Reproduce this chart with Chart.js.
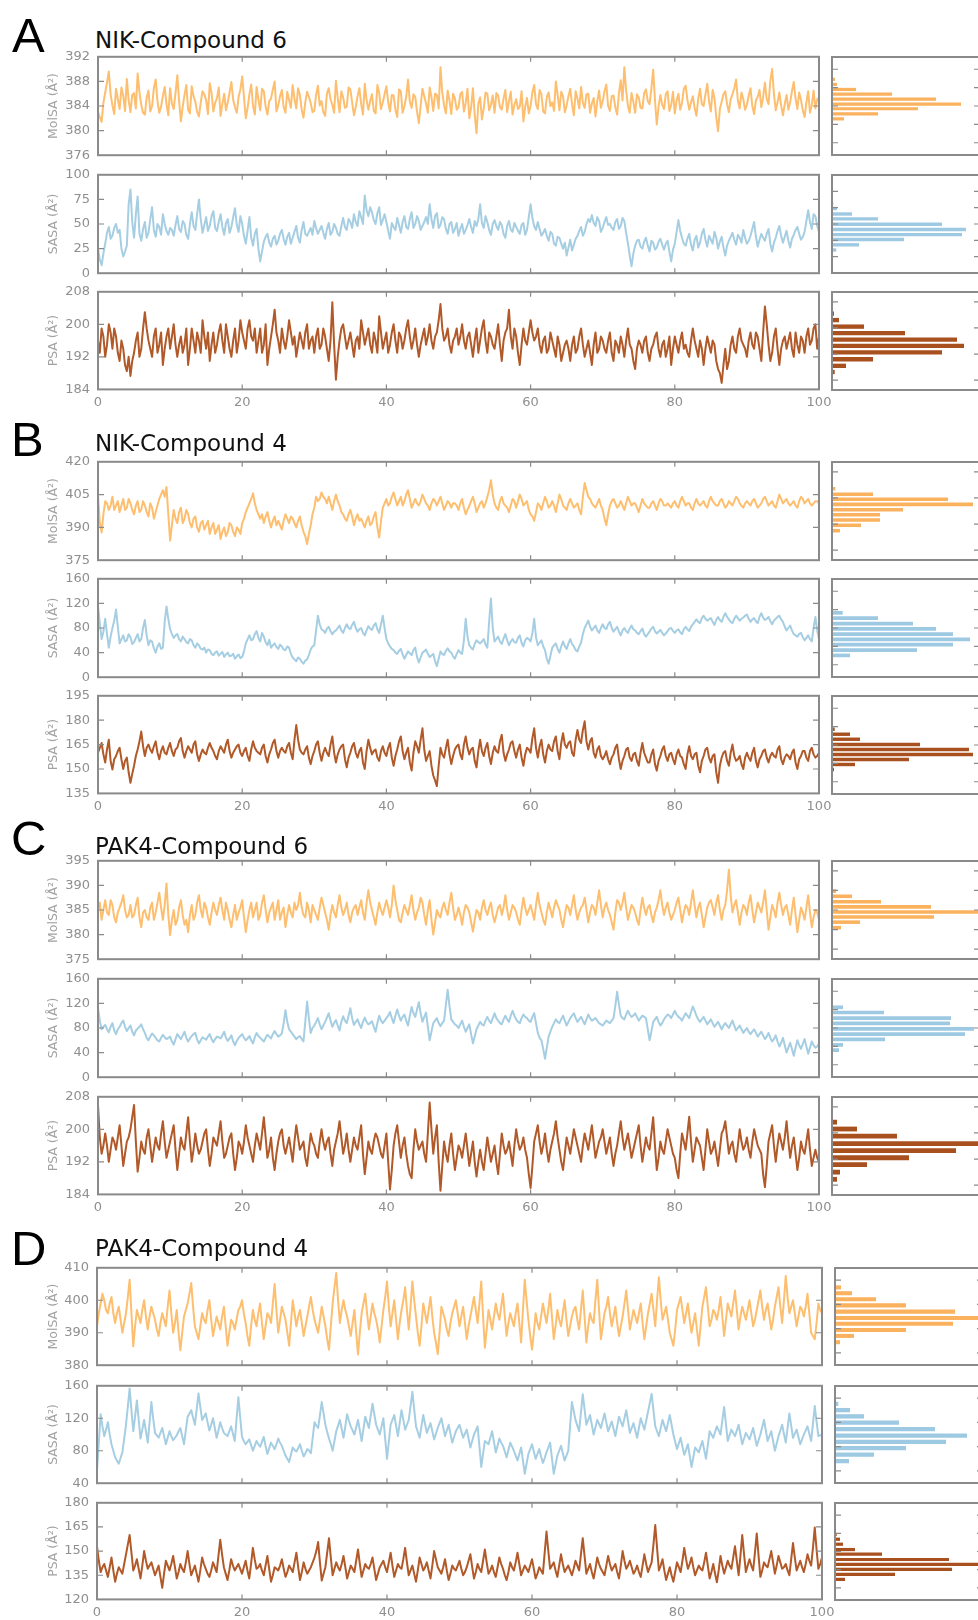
<!DOCTYPE html>
<html><head><meta charset="utf-8">
<script src="https://cdn.jsdelivr.net/npm/chart.js@4.4.1/dist/chart.umd.min.js"></script>
<style>
html,body{margin:0;padding:0;background:#fff;}
body{width:978px;height:1620px;position:relative;overflow:hidden;}
canvas{position:absolute;}
.letter{position:absolute;font-family:"Liberation Sans",Arial,sans-serif;font-size:49px;line-height:49px;color:#000;white-space:nowrap;}
.title{position:absolute;font-family:"DejaVu Sans",sans-serif;font-size:23px;line-height:23px;color:#111;white-space:nowrap;}
</style></head><body>
<script>
// ---------- sampling / axes ----------
// main arrays: samples at t = 0, 0.5, 1.0 ... 100 ns ; *_mid arrays: samples at t = 0.25, 0.75, ...
const TIME_STEP = 0.5;
const xTicks = [0, 20, 40, 60, 80, 100];
const HIST_MAX = 148;

// ---------- A: NIK-Compound 6 ----------
const nik6_molsa = [
383.0,381.4,386.2,389.6,384.1,386.8,383.5,385.7,388.4,383.0,386.1,389.3,384.2,382.6,386.5,384.0,388.3,382.9,385.6,384.3,
386.9,383.5,389.0,381.5,385.8,383.4,387.2,384.7,382.3,386.4,384.9,387.7,383.1,385.3,382.4,386.0,384.6,387.9,383.8,385.5,
388.8,382.0,385.9,384.0,387.1,383.3,386.4,382.6,385.2,388.0,384.1,386.6,382.9,385.0,387.4,383.6,385.8,382.1,386.3,384.5,
383.2,387.3,384.8,382.4,386.9,384.2,388.1,383.0,385.4,383.9,386.7,382.5,385.6,384.3,387.6,383.4,385.9,382.8,386.1,384.6,
387.2,383.1,385.7,382.2,386.4,384.0,388.3,383.7,385.5,381.2,386.8,384.4,387.0,383.2,385.8,390.3,384.1,386.5,382.7,385.2,
383.8,386.3,384.5,382.0,386.9,379.6,385.4,383.6,386.0,384.2,382.9,385.7,383.4,386.6,384.8,382.6,385.1,383.9,381.5,385.3,
384.0,387.4,383.5,385.9,382.8,386.2,384.6,388.0,383.3,385.6,384.1,386.8,382.5,385.2,387.1,383.7,386.0,384.4,382.3,386.5,
384.8,387.5,383.2,385.7,382.6,388.2,390.3,384.0,386.1,382.9,385.4,383.6,386.7,384.3,389.9,381.0,385.8,383.5,386.4,384.2,
382.8,386.0,384.5,387.3,383.4,385.6,382.4,386.8,384.0,387.6,383.1,385.3,379.9,384.7,386.4,383.0,385.9,388.3,383.6,385.1,
384.2,386.9,382.7,385.5,383.8,387.8,384.3,390.0,383.3,386.2,382.5,385.8,384.6,387.9,383.5,385.0,382.2,386.4,384.1,383.6,
385.4];
const nik6_molsa_mid = [
382.2,384.5,387.8,385.9,382.7,385.1,387.0,383.2,384.9,385.8,383.6,386.2,382.9,385.4,383.1,386.9,384.8,383.9,387.1,382.5,
384.4,386.1,384.8,383.9,387.4,382.8,385.6,383.0,384.6,385.9,382.7,386.1,384.5,387.0,384.3,383.3,386.2,385.0,382.9,386.7,
385.4,383.7,387.5,382.6,385.0,386.8,383.9,384.8,386.7,383.1,385.6,383.8,386.3,383.7,385.2,386.9,383.4,384.6,385.5,383.0,
385.8,384.1,383.0,386.0,385.1,382.9,385.3,386.4,383.7,387.0,384.6,383.8,386.9,382.6,385.0,384.8,383.2,387.4,383.5,385.9,
384.6,385.8,383.4,386.7,382.9,385.5,384.7,385.9,383.1,384.0,385.6,382.9,385.4,386.0,383.6,386.2,382.8,384.9,386.0,383.4,
385.9,383.1,386.8,383.7,382.5,384.4,381.8,386.2,383.3,385.7,386.1,383.8,385.2,383.0,386.3,384.2,383.5,386.4,383.9,382.8,
386.2,384.3,386.6,383.1,385.5,384.0,383.2,385.8,386.3,383.0,385.6,384.3,386.4,383.6,384.5,385.9,382.9,385.3,384.8,383.7,
386.4,384.0,385.6,383.8,386.0,384.9,386.5,382.9,384.7,385.9,383.7,386.1,384.8,386.8,385.0,383.9,384.2,385.9,383.2,386.3,
384.9,383.4,386.8,385.0,384.6,383.7,385.2,384.3,385.9,384.8,386.6,382.2,383.5,385.9,384.3,385.1,386.9,384.9,386.2,383.4,
385.7,384.0,384.9,386.6,385.4,385.1,388.1,386.0,384.6,384.1,384.3,383.4,386.4,385.2,386.2,383.3,384.6,382.9,386.5,385.1];
const nik6_sasa = [
25,8,30,47,38,50,44,17,28,85,36,78,33,52,41,67,37,47,60,43,
46,38,58,42,50,35,62,44,75,41,57,48,63,43,60,39,55,47,66,42,
50,30,57,28,45,12,32,40,27,38,33,44,29,41,36,48,31,52,38,46,
53,40,48,35,51,42,46,38,56,44,52,60,48,57,79,58,62,50,67,54,
52,35,47,56,41,58,45,62,50,53,48,57,70,46,61,49,55,40,52,45,
38,50,44,55,41,48,70,46,52,39,54,44,49,36,53,42,47,40,51,44,
70,48,52,38,45,33,40,28,36,25,18,34,29,38,47,42,55,59,48,53,
46,57,50,44,55,48,53,30,7,28,34,25,36,22,31,26,35,24,33,12,
30,54,36,28,40,23,38,31,45,27,34,42,25,37,18,33,41,29,36,44,
30,38,52,27,40,33,45,22,36,48,31,43,26,39,47,34,42,64,45,58,
42];
const nik6_sasa_mid = [
14,20,41,35,46,41,25,22,70,52,60,40,45,36,55,44,50,39,50,39,
44,49,45,53,39,50,48,60,55,49,43,58,46,52,47,51,41,57,49,58,
38,43,36,40,25,22,37,31,35,29,40,35,37,30,42,36,44,40,42,39,
46,44,41,45,39,50,40,48,47,55,46,52,63,50,64,67,54,61,49,60,
43,51,44,49,52,47,55,46,58,44,52,50,55,58,46,57,45,50,41,51,
45,40,49,47,53,55,51,58,44,50,48,52,40,48,44,51,43,49,39,57,
56,44,45,41,38,42,30,37,30,31,26,23,35,43,38,50,52,51,57,42,
52,49,46,52,45,56,41,18,20,33,27,32,28,33,24,32,29,30,22,24,
42,43,30,35,29,34,26,40,34,38,30,36,32,26,28,37,34,39,31,36,
33,45,37,34,36,40,30,31,43,38,37,33,35,44,40,37,53,52,60,48];
const nik6_psa = [
196,199,192,200,194,197,191,194,188.5,187.3,193,198,194,203,196,192,199,195,190,197,
194,200,192,197,195,190,199,193,196,201,194,191,198,195,200,193,197,192,199,196,
198,194,201,196,193,199,195,190,197,203.6,196,199,194,201,195,192,198,194,200,196,
193,199,195,197,191,205.4,186.4,196,200,194,198,192,197,201,195,199,193,196,202,194,
198,195,200,193,197,196,201,194,199,192,197,195,200,194,198,205,196,199,193,197,
195,200,194,198,192,199,196,201,193,197,194,200,191,198,203.6,194,197,190,199,195,
201,196,199,193,197,194,196,192,195,193,196,191,197,194,199,192,196,190,198,194,
196,193,198,191,195,197,192,199,194,189,196,193,197,191,195,198,192,196,194,190,
197,193,198,195,192,199,194,196,190,197,193,195,189,185.6,194,191,197,193,199,195,
192,198,194,197,191,204.4,195,193,199,190,196,194,198,192,195,197,193,199,196,200,
197];
const nik6_psa_mid = [
193,197,195,198,199,193,196,190,192,191,196,192,199,199,194,197,193,198,194,199,
197,195,195,193,199,194,196,198,193,197,198,195,193,198,196,200,194,196,193,201,
196,199,197,199,196,193,200,194,200,198,193,196,197,198,197,195,196,198,194,197,
197,194,199,194,196,195,192,199,197,196,195,196,194,198,197,195,198,193,198,196,
193,198,196,198,194,199,197,196,195,195,199,197,196,197,201,199,197,195,196,199,
197,196,197,195,196,193,199,196,198,195,197,195,196,199,197,199,193,195,196,198,
198,197,195,196,193,198,194,197,191,195,194,195,193,197,195,194,193,195,193,197,
194,196,193,196,193,195,196,195,191,194,195,196,193,194,197,194,195,192,197,194,
195,196,194,193,196,196,192,194,194,195,196,191,188,190,189,195,194,197,196,194,
196,195,198,194,198,200,191,197,194,194,197,196,194,198,193,196,197,195,199,194];
const nik6_molsa_ticks = [376, 380, 384, 388, 392];
const nik6_sasa_ticks  = [0, 25, 50, 75, 100];
const nik6_psa_ticks   = [184, 192, 200, 208];
const nik6_molsa_bins   = [389.8, 388.7, 387.6, 386.6, 385.5, 384.4, 383.4, 382.3, 381.2, 380.1];
const nik6_molsa_counts = [3, 5, 24, 60, 104, 129, 86, 46, 12, 1];
const nik6_sasa_bins    = [81.3, 73.8, 65.3, 57.9, 49.7, 41.5, 33.7, 26.2, 18.1, 10.2];
const nik6_sasa_counts  = [1.3, 5, 20, 46, 110, 134, 130, 72, 27, 4.3];
const nik6_psa_bins     = [204.4, 202.4, 200.4, 198.4, 196.4, 194.5, 192.5, 190.4, 188.4, 186.5];
const nik6_psa_counts   = [2, 7, 32, 73, 125, 132, 110, 41, 14, 2.7];

// ---------- B: NIK-Compound 4 ----------
const nik4_molsa = [
405,387.7,402,398,404,400,397,403,399,401,396,402,398,400,395,399,397,403,407,408.5,
384,398,392,399,394,396,390,395,388,393,391,387,392,389,384.7,390,388,391,386,389,
392,397,401,405.6,398,394,392,397,390,395,393,389,396,392,394,390,395,388,382.4,391,
399,402,406,403,404,398,405,400,396,393,398,391,396,394,390,395,392,397,385.4,399,
403,401,406,400,404,402,407,399,403,400,405,401,398,403,400,404,398,402,399,401,
398,403,396,400,404,397,401,399,404,411.6,401,398,404,400,397,403,399,405,400,402,
396,393,401,398,404,399,402,397,405,400,398,403,399,401,396,410.3,404,401,399,403,
398,391,400,403,399,402,398,404,400,401,397,403,400,399,402,398,403,400,401,399,
402,399,404,400,401,398,403,400,402,399,404,401,400,403,399,402,400,404,401,399,
402,400,403,399,401,404,400,402,399,405,401,403,400,402,399,404,401,403,400,402,
401];
const nik4_molsa_mid = [
392,396,401,400,398,402,400,398,403,398,400,397,402,397,401,394,400,405,404,396,
391,394,397,392,398,392,394,390,392,389,393,390,387,391,388,386,392,388,390,387,
394,399,403,401,396,396,395,393,393,391,391,393,394,395,392,393,391,386,387,396,
404,403,404,401,401,402,402,397,394,396,395,394,393,392,393,391,395,390,393,401,
400,404,403,402,400,405,403,401,401,402,403,400,401,402,402,401,400,401,401,400,
401,399,398,402,401,399,402,401,407,405,399,402,401,399,400,402,402,403,401,398,
395,397,400,401,402,400,400,401,403,399,401,401,400,398,404,407,403,400,401,400,
394,396,402,401,400,400,401,402,401,399,400,401,399,401,400,401,402,400,400,401,
400,402,402,401,399,401,401,401,400,402,402,400,402,401,400,401,402,403,400,401,
401,402,401,400,403,402,401,400,402,403,402,401,401,400,402,403,402,401,401,402];
const nik4_sasa = [
115,62,95,48,80,110,55,68,60,65,57,70,62,93,52,58,40,55,48,115,
78,64,70,58,62,55,60,48,52,45,40,44,36,42,38,33,40,35,30,37,
33,55,68,62,75,58,66,52,48,55,46,50,44,48,32,26,30,22,29,45,
52,100,78,72,82,70,76,84,72,86,78,90,74,80,68,83,77,88,72,100,
62,50,44,38,46,30,42,36,48,24,40,45,33,38,18,42,36,47,40,30,
44,38,95,52,45,60,55,62,48,128,58,66,54,70,52,62,56,68,50,64,
58,95,52,60,44,22,48,55,40,58,46,62,50,42,56,80,92,76,84,72,
86,78,90,74,82,68,80,72,84,76,70,79,66,74,82,71,77,68,75,80,
72,78,70,82,75,86,94,88,100,92,96,85,98,90,104,94,88,100,92,97,
102,90,96,88,104,93,98,86,95,100,90,76,84,70,66,72,60,68,58,98,
62];
const nik4_sasa_mid = [
88,74,70,66,92,82,62,58,70,54,64,58,80,68,60,47,50,46,90,95,
70,68,62,66,57,62,52,55,46,48,45,38,40,35,41,37,34,38,34,31,
42,62,60,70,64,72,57,61,52,49,53,45,50,38,29,32,25,27,36,50,
76,86,76,79,75,74,80,76,80,80,85,80,78,72,76,79,84,78,86,80,
55,46,40,43,37,36,39,44,33,32,42,38,35,26,30,38,43,42,34,38,
40,60,66,48,54,57,58,53,90,80,62,58,63,60,58,57,64,56,60,62,
72,65,56,50,30,35,52,46,50,50,55,54,44,50,70,86,82,80,76,80,
80,86,80,78,74,76,75,79,78,72,75,70,70,79,75,74,72,71,79,75,
76,73,78,78,82,90,90,96,95,94,90,93,93,98,98,90,95,96,95,100,
95,94,91,98,97,95,91,92,98,94,82,80,76,68,70,65,64,62,80,76];
const nik4_psa = [
160,166,154,168,149.7,158,163,150,157,141.5,152,162,173,158,165,160,167,156,164,159,
166,158,163,169,157,164,160,167,155,162,159,166,161,156,164,160,168,157,162,165,
158,163,155,167,161,159,165,154,162,168,157,163,160,166,156,177,162,159,164,153,
161,167,155,163,158,170,154,162,165,151,160,166,157,163,150,168,159,162,155,164,
158,166,152,162,170,156,163,149,167,160,175,155,161,146,139.5,163,157,168,153,162,
165,156,170,159,163,151,168,158,166,153,164,160,171,155,162,167,157,165,152,163,
160,175,157,168,154,165,161,170,156,172,163,167,158,174,166,179.3,162,169,157,164,
156,161,153,159,165,150,158,163,155,160,152,166,157,154,162,149,158,164,155,160,
153,162,157,150,164,156,160,148,158,163,154,159,141.5,157,161,152,165,155,158,150,
160,155,163,151,158,162,154,160,157,164,153,159,156,162,150,158,161,155,163,157,
160];
const nik4_psa_mid = [
163,159,162,155,156,161,156,155,148,147,158,167,164,163,162,164,160,161,160,163,
161,162,167,161,161,162,165,159,159,160,163,163,158,161,162,165,161,160,164,160,
161,158,162,163,160,163,158,159,166,161,161,161,164,160,168,168,160,162,157,158,
165,160,160,160,165,160,159,164,156,157,164,160,161,154,161,163,161,157,161,160,
163,157,158,167,161,160,154,160,164,168,162,158,152,143,152,159,163,159,158,164,
159,165,163,162,155,161,161,163,158,160,161,167,160,159,166,161,162,157,159,162,
169,163,164,159,161,162,167,161,166,165,166,160,168,168,174,167,167,160,162,158,
158,156,157,163,156,155,162,157,159,155,160,160,154,159,153,155,162,158,159,156,
159,158,153,159,158,159,152,155,162,157,158,148,152,160,155,160,158,156,153,157,
157,160,155,156,161,157,158,158,162,156,157,158,160,154,156,161,157,161,159,158];
const nik4_molsa_ticks = [375, 390, 405, 420];
const nik4_sasa_ticks  = [0, 40, 80, 120, 160];
const nik4_psa_ticks   = [135, 150, 165, 180, 195];
const nik4_molsa_bins   = [410.3, 407.1, 404.2, 401.3, 398.2, 395.3, 392.3, 389.3, 386.2, 383.2];
const nik4_molsa_counts = [3.3, 41, 116, 141, 71, 48, 48, 29, 8, 1];
const nik4_sasa_bins    = [124.5, 113, 101.5, 89.6, 78.1, 66.7, 55.2, 43.7, 31.8, 20.3];
const nik4_sasa_counts  = [1, 10.7, 46, 81, 104, 121, 138, 121, 85, 18];
const nik4_psa_bins     = [177.9, 173.8, 169.7, 165.4, 161.3, 157.2, 153.2, 149.1, 145, 140.9];
const nik4_psa_counts   = [2.7, 18, 28, 88, 137, 141, 77, 23, 2, 1];

// ---------- C: PAK4-Compound 6 ----------
const pak6_molsa = [
385,383,387,384,386,382.5,385.5,388,383.5,386,384,387.5,381.5,385,383,386.5,384.5,388.5,383,390.4,
379.9,385,383,387,382,380.5,386,384,388,383.5,385.5,382,386.5,384,387.5,383,385,381.5,386,384.5,
387,380.5,385,383.5,386.5,384,388,382.5,385.5,383,387,384.5,381.5,386,383.5,385,388.5,384,386.5,382.5,
385,383,387.5,384.5,381,386,383.5,388,384,386.5,382.5,385.5,384,387,383,389,385,382,386.5,384,
387,383.5,390,385,382.5,386,384,388,383,385.5,386.5,382,387,380,385,383.5,386.5,384,388.5,383,
385.5,382,386,384.5,380.6,385,383,387,384,386.5,382.5,385.5,384,388,383,386,384.5,382,387.5,384,
386,383,388.5,384.5,382,386.5,383.5,387,385,381.5,386,384,388,383,385.5,387.5,382.5,386,384,389,
383.5,386.5,384,381,387,385,388.5,383,386,384.5,382,387.5,384,386,382.5,385.5,389,384,386.5,383,
385,387.5,382.5,386,384,389,383.5,386.5,381.5,385.5,387,384,388,383,386,393.2,384.5,387,382,386,
384,388,382.5,386.5,384.5,389,381,386,383.5,388.5,384,386,382,387.5,380.5,385.5,383,388,381.5,385,
383];
const pak6_molsa_mid = [
386.5,385,384.5,387,383.5,384.5,386.5,385,384,383.5,386,383.5,384.5,383.5,385.5,383,386.5,385.5,386,384,
383,382,385.5,384,383,384,383,386.5,385,386.5,383.5,384.5,385,386,385,386.5,383,384,383,385.5,
383.5,383,386.5,385,383,386.5,385,384.5,386.5,385,383,385.5,384,384.5,386.5,386,385.5,383.5,385,386,
384,385.5,386,383,384,384.5,386,385.5,385,384,384.5,386,385.5,384.5,386.5,386.5,383.5,384.5,385,385.5,
385.5,386,387,383,384.5,385,386,385,384.5,387.5,384,385,383,382.5,384,385.5,385,386.5,385.5,384,
384,384.5,385.5,382.5,383,384.5,385.5,385,385.5,384,384,386,385.5,385,384.5,385.5,383,385,385.5,385,
384.5,386,386,383,384.5,385,385.5,386,383,384,385.5,386,385,384.5,386,385,384.5,385.5,386.5,386,
385.5,385,382.5,384.5,386.5,386.5,385.5,384.5,385.5,383,385,385.5,385.5,384,384.5,387,386,385.5,384.5,384,
386.5,385,384.5,385.5,386.5,386,385.5,384,383.5,386.5,385.5,386.5,385,385,389,388,386,384.5,384.5,385.5,
386.5,385,384.5,385.5,386.5,385,383.5,385,386.5,386,385.5,384,385,384,383,384.5,385.5,384.5,383.5,384.5];
const pak6_sasa = [
112,78,85,73,88,70,82,92,75,84,68,79,86,72,60,71,64,58,69,62,
66,53,70,62,74,58,67,72,55,65,61,70,57,66,63,74,59,68,52,64,
70,60,67,55,72,64,58,69,63,75,66,71,109,78,70,62,67,58,123,72,
84,96,78,90,104,82,93,76,99,88,112,85,94,80,97,86,91,74,100,88,
96,106,88,110,92,102,84,114,98,122,90,105,60,88,96,83,92,142,94,86,
80,92,74,86,55,78,90,84,98,88,104,92,86,100,90,108,94,88,102,96,
90,104,72,60,30,66,82,94,88,100,84,96,104,90,98,86,102,92,96,88,
84,92,88,96,139,100,94,108,98,104,92,100,96,60,90,98,84,94,102,96,
108,98,92,104,96,115,100,90,98,86,94,82,90,78,88,80,92,76,84,72,
80,70,78,66,74,62,72,58,68,50,64,40,56,35,60,46,62,38,58,48,
55];
const pak6_sasa_mid = [
92,82,78,82,76,78,88,82,80,74,76,82,78,64,66,68,60,64,65,64,
58,62,66,68,64,63,70,61,60,63,66,62,62,65,68,64,63,58,59,67,
64,63,60,65,67,61,64,66,70,70,68,88,90,74,66,65,62,90,96,80,
90,86,84,97,92,88,84,90,92,100,96,90,86,90,90,88,82,88,92,92,
100,96,100,100,98,92,100,104,110,104,98,82,74,92,88,88,118,116,90,84,
86,82,80,70,66,84,86,92,92,96,96,88,94,94,100,100,90,96,98,92,
98,88,64,46,48,74,88,90,94,92,90,100,96,94,92,94,96,94,92,86,
88,90,92,116,118,96,102,102,100,98,96,98,78,74,94,90,88,98,100,102,
102,96,98,100,106,108,94,94,92,90,88,86,84,84,84,86,84,80,78,76,
74,74,72,70,68,66,64,62,58,56,52,48,46,48,52,54,50,48,52,50];
const pak6_psa = [
206,194,199,192,198,195,201,191,197,200,206,189.6,197,194,200,192,198,195,202,193,
197,201,190,198,195,203,192,199,194,197,200,191,198,196,202,193,196,199,190,197,
194,201,196,192,199,195,203,193,198,190,197,200,194,198,192,201,195,197,191,199,
196,193,200,195,198,191,197,202,194,199,192,198,195,201,189,197,194,199,196,193,
199,185.2,196,201,193,198,191,188,200,195,197,192,206.6,194,201,184.9,197,192,199,190,
196,193,199,191,197,188.4,195,190,198,192,196,189,199,194,197,191,200,195,198,193,
185.6,197,201,194,199,192,197,202,195,190,198,194,200,196,192,199,195,201,193,197,
200,194,198,191,196,202,195,199,193,197,201,192,198,195,203,190,197,194,200,196,
193,188,199,195,203.1,192,198,196,190,200,194,197,191,199,202,194,197,192,200,195,
198,193,200,196,194,185.8,197,201,192,199,195,202,193,198,190,197,194,200,191,195,
192];
const pak6_psa_mid = [
198,196,196,195,197,198,196,194,198,203,197,193,195,198,196,195,196,199,197,195,
199,195,194,196,199,197,195,196,195,199,195,194,197,199,197,194,198,194,193,196,
197,198,194,196,197,199,198,195,193,194,199,196,196,195,197,198,196,193,195,197,
194,197,197,197,194,195,199,198,196,195,195,196,198,194,193,195,197,198,194,196,
192,190,199,197,196,194,189,195,197,196,194,199,200,198,192,191,194,196,194,193,
195,196,195,194,192,192,192,194,195,194,192,194,196,195,194,196,197,196,195,189,
191,199,197,196,195,195,199,198,192,194,196,197,198,194,196,197,198,197,195,198,
197,196,194,194,199,198,197,196,195,199,196,195,196,199,196,193,195,197,198,194,
190,194,197,199,197,195,197,193,195,197,195,194,195,200,198,196,194,196,197,196,
195,197,198,195,189,191,199,196,196,197,198,197,196,194,193,195,197,195,193,193];
const pak6_molsa_ticks = [375, 380, 385, 390, 395];
const pak6_sasa_ticks  = [0, 40, 80, 120, 160];
const pak6_psa_ticks   = [184, 192, 200, 208];
const pak6_molsa_bins   = [389.8, 388.5, 387.1, 385.8, 384.5, 383.2, 381.9, 380.5];
const pak6_molsa_counts = [4, 20, 49, 99, 160, 102, 28, 9];
const pak6_sasa_bins    = [125.1, 113.7, 101.5, 90.1, 78.1, 66.7, 55.2, 43.2, 31.8];
const pak6_sasa_counts  = [11, 52, 119, 118, 142, 133, 53, 11, 7];
const pak6_psa_bins     = [203.3, 201.2, 199.0, 196.7, 194.6, 192.4, 190.3, 188.0, 185.8];
const pak6_psa_counts   = [5, 25, 65, 160, 124, 77, 35, 8, 5];

// ---------- D: PAK4-Compound 4 ----------
const pak4_molsa = [
392,399,400,396,401,393,398,390,396,406.3,385.8,397,393,400,391,398,394,389,396,392,
403,390,397,384.6,395,399,405.3,392,388,396,393,400,389,395,391,398,386,394,391,397,
400,393,386,397,392,399,388,396,393,405,390,398,394,386,400,392,397,389,395,401,
394,390,398,392,384.8,399,408.4,393,400,395,389,397,383.3,396,402,391,399,394,387,397,
405.8,392,400,388,397,404,391,405.8,395,386,399,393,401,390,383.4,398,394,389,396,400,
392,398,388,395,401,393,405.8,385.4,397,391,399,394,402,389,396,392,399,387,406.3,394,
384.8,396,391,399,393,402,388,397,392,400,389,395,398,391,403,387,396,393,406.3,388,
396,401,392,398,389,395,403,391,397,393,399,388,396,402,392,407.1,394,398,390,386,
397,401,393,399,390,396,386,398,404,392,397,394,401,389,399,395,403,391,398,394,
400,392,397,403,394,399,391,398,404,393,407.5,396,400,392,398,395,402,390,388,399,
396];
const pak4_molsa_mid = [
396,402,397,399,396,396,394,393,401,396,392,395,397,395,395,396,391,393,394,398,
396,393,390,390,397,402,398,390,392,394,397,394,392,393,395,392,390,393,394,398,
396,389,392,394,396,393,392,395,399,397,394,396,390,393,396,395,393,392,398,397,
392,394,395,388,392,404,400,397,397,392,393,390,390,399,396,395,396,391,392,401,
398,396,394,393,400,397,398,400,390,392,396,397,395,387,390,396,391,393,398,396,
395,393,392,398,397,399,395,391,394,395,396,398,395,393,394,396,393,397,400,389,
390,393,395,396,397,395,392,394,396,394,392,397,394,397,395,392,394,400,397,392,
398,396,395,393,392,399,397,394,395,396,393,392,399,397,400,400,396,394,388,391,
399,397,396,394,393,391,392,401,398,394,396,397,395,394,397,399,397,395,396,397,
396,394,400,398,397,395,394,401,398,400,401,398,396,395,397,398,396,389,393,397];
const pak4_sasa = [
56,125,98,115,88,72,64,78,112,156.8,104,142,95,118,90,140,102,96,108,88,
104,93,99,108,88,122,130,112,150.6,118,126,105,120,96,115,102,98,110,92,146,
97,88,94,80,92,85,97,76,90,82,95,86,74,66,84,79,88,73,82,77,
115,108,140,112,95,80,104,118,96,125,110,100,118,92,122,108,138,112,100,120,
70,112,124,98,130,106,118,152.6,110,96,124,102,114,94,108,120,98,112,90,104,
112,96,106,84,100,110,60,92,88,104,78,95,86,72,90,80,68,84,51.6,76,
88,70,82,65,78,90,51.6,74,86,68,80,140,118,104,149.7,112,124,100,118,108,
126,104,116,98,122,110,130,102,114,96,120,106,128,150,110,98,118,104,124,100,
82,96,75,88,60,84,78,92,70,104,96,110,100,134,92,106,98,112,88,102,
94,108,86,100,118,92,104,80,98,112,90,126,96,106,88,100,110,92,135,98,
100];
const pak4_sasa_mid = [
90,110,106,100,80,68,71,95,134,130,122,118,106,104,115,120,99,102,98,96,
98,96,104,98,105,126,121,131,134,122,115,112,108,105,108,100,104,101,119,121,
92,91,87,86,88,91,86,83,86,88,90,80,70,75,81,83,80,77,80,96,
111,124,126,103,88,92,111,107,110,117,105,109,105,107,115,123,125,106,110,95,
91,118,111,114,118,112,135,131,103,110,113,108,104,101,114,109,105,101,97,108,
104,101,95,92,105,85,76,90,96,91,86,90,79,81,85,74,76,68,64,82,
79,76,73,71,84,71,63,80,77,74,110,129,111,127,131,118,112,109,113,117,
115,110,107,110,116,120,116,108,105,108,113,117,139,130,104,108,111,114,112,91,
89,85,81,74,72,81,85,81,87,100,103,105,117,113,99,102,105,100,95,98,
101,97,93,109,105,98,92,89,105,101,108,111,101,97,94,105,101,113,116,99];
const pak4_psa = [
153,137,142,134,146,131,140,136,148,160,138,145,133,150,139,143,135,141,127.2,144,
138,147,133,142,137,150,135,141,131,146,139,134,143,137,157,140,132,145,138,142,
136,144,133,152,139,142,135,147,131,140,138,145,134,141,137,149,132,143,136,140,
146,155.6,131.7,140,158,135,143,138,147,133,141,137,151,134,142,139,146,132,140,144,
137,149,134,142,139,152,135,141,131,146,138,143,133,150,140,136,145,132,141,138,
144,135,140,148,133,142,137,151,136,141,134,146,139,132,143,138,149,135,141,137,
145,133,140,136,162.1,139,143,134,148,137,141,135,144,138,158,136,142,133,146,139,
135,147,138,142,133,150,139,144,136,141,134,148,137,143,166.2,138,145,132,140,131,
143,137,152,139,146,135,141,138,149,133,142,130.6,147,136,144,139,153,135,160,137,
145,138,161,134,143,140,150,136,147,139,142,135,155,138,144,137,148,141,164.6,139,
146];
const pak4_psa_mid = [
144,140,138,140,138,136,138,142,154,149,141,139,141,144,141,139,138,134,136,141,
142,140,137,139,143,142,138,136,138,142,136,138,140,147,148,136,138,141,140,139,
140,138,142,145,140,138,141,139,135,139,141,139,137,139,143,140,137,139,138,143,
150,143,136,149,146,139,140,142,140,137,139,144,142,138,140,142,139,136,142,140,
143,141,138,140,145,143,138,136,138,142,140,138,141,145,138,140,138,136,139,141,
139,137,144,140,137,139,144,143,138,137,140,142,135,137,140,143,142,138,139,141,
139,136,138,149,150,141,138,141,142,139,138,139,141,148,147,139,137,139,142,137,
141,142,140,137,141,144,141,140,138,137,141,142,140,154,152,141,138,136,135,137,
140,144,145,142,140,138,139,143,141,137,136,138,141,140,141,146,144,147,148,141,
141,149,147,138,141,145,143,141,143,140,138,145,146,141,140,142,144,152,151,142];
const pak4_molsa_ticks = [380, 390, 400, 410];
const pak4_sasa_ticks  = [40, 80, 120, 160];
const pak4_psa_ticks   = [120, 135, 150, 165, 180];
const pak4_molsa_bins   = [407.0, 404.6, 402.1, 399.6, 397.0, 394.4, 392.0, 389.4, 387.0, 384.4];
const pak4_molsa_counts = [6, 17, 41, 71, 120, 150, 118, 71, 19, 5];
const pak4_sasa_bins    = [150.6, 140.2, 129.9, 119.7, 108.9, 98.1, 87.9, 77.6, 66.8, 56.1];
const pak4_sasa_counts  = [3.3, 15, 29, 64, 100, 132, 111, 71, 39, 14];
const pak4_psa_bins     = [164.2, 160.1, 156.0, 151.6, 147.8, 143.4, 139.3, 135.2, 131.1, 127.0];
const pak4_psa_counts   = [1.7, 5, 8, 20, 47, 114, 150, 117, 60, 10];

// ---------- styling & layout (not data) ----------
Chart.defaults.font.family = "'DejaVu Sans', sans-serif";
const FRAME = '#8a8a8a', TICKTXT = '#8f8f8f', TITLETXT = '#a2a2a2';
const LINE_COL = ['#fdbf6f', '#a6cee3', '#b15928'];
const HIST_COL = ['#fbb25e', '#9dc9e2', '#a9501f'];
const YLABELS = ['MolSA (Å²)', 'SASA (Å²)', 'PSA (Å²)'];
const TICK_LEN = 6;

const groups = [
  {letter:'A', title:'NIK-Compound 6', lx:12, ly:11, tx:95, ty:29, x0:98, x1:819, hx:832, tops:[57,175,292], h:98,
   s:[[nik6_molsa,nik6_molsa_mid,nik6_molsa_ticks,nik6_molsa_bins,nik6_molsa_counts],[nik6_sasa,nik6_sasa_mid,nik6_sasa_ticks,nik6_sasa_bins,nik6_sasa_counts],[nik6_psa,nik6_psa_mid,nik6_psa_ticks,nik6_psa_bins,nik6_psa_counts]]},
  {letter:'B', title:'NIK-Compound 4', lx:11, ly:415, tx:95, ty:432, x0:98, x1:819, hx:832, tops:[462,579,696], h:98,
   s:[[nik4_molsa,nik4_molsa_mid,nik4_molsa_ticks,nik4_molsa_bins,nik4_molsa_counts],[nik4_sasa,nik4_sasa_mid,nik4_sasa_ticks,nik4_sasa_bins,nik4_sasa_counts],[nik4_psa,nik4_psa_mid,nik4_psa_ticks,nik4_psa_bins,nik4_psa_counts]]},
  {letter:'C', title:'PAK4-Compound 6', lx:11, ly:814, tx:95, ty:835, x0:98, x1:819, hx:832, tops:[861,979,1097], h:98,
   s:[[pak6_molsa,pak6_molsa_mid,pak6_molsa_ticks,pak6_molsa_bins,pak6_molsa_counts],[pak6_sasa,pak6_sasa_mid,pak6_sasa_ticks,pak6_sasa_bins,pak6_sasa_counts],[pak6_psa,pak6_psa_mid,pak6_psa_ticks,pak6_psa_bins,pak6_psa_counts]]},
  {letter:'D', title:'PAK4-Compound 4', lx:11, ly:1224, tx:95, ty:1237, x0:97, x1:822, hx:835, tops:[1268,1386,1503], h:97,
   s:[[pak4_molsa,pak4_molsa_mid,pak4_molsa_ticks,pak4_molsa_bins,pak4_molsa_counts],[pak4_sasa,pak4_sasa_mid,pak4_sasa_ticks,pak4_sasa_bins,pak4_sasa_counts],[pak4_psa,pak4_psa_mid,pak4_psa_ticks,pak4_psa_bins,pak4_psa_counts]]}
];

function samples(main, mid) {
  const pts = [];
  main.forEach((v, i) => {
    pts.push({x: i * TIME_STEP, y: v});
    if (i < main.length - 1 && mid[i] !== undefined) pts.push({x: (i + 0.5) * TIME_STEP, y: mid[i]});
  });
  return pts;
}

function makeFrame(yT, xT) {
  return {
    id: 'frameTicks',
    afterDatasetsDraw(chart) {
      const {ctx, chartArea: a} = chart;
      const ys = chart.scales.y, xs = chart.scales.x;
      ctx.save();
      ctx.strokeStyle = FRAME;
      ctx.lineWidth = 1.2;
      ctx.beginPath();
      yT.forEach(v => {
        const p = ys.getPixelForValue(v);
        if (p < a.top + 2 || p > a.bottom - 2) return;
        ctx.moveTo(a.left, p); ctx.lineTo(a.left + TICK_LEN, p);
        ctx.moveTo(a.right - TICK_LEN, p); ctx.lineTo(a.right, p);
      });
      xT.forEach(v => {
        const p = xs.getPixelForValue(v);
        if (p < a.left + 2 || p > a.right - 2) return;
        ctx.moveTo(p, a.top); ctx.lineTo(p, a.top + TICK_LEN - 1);
        ctx.moveTo(p, a.bottom - TICK_LEN + 1); ctx.lineTo(p, a.bottom);
      });
      ctx.stroke();
      ctx.lineWidth = 2;
      ctx.strokeRect(a.left, a.top, a.right - a.left, a.bottom - a.top);
      ctx.restore();
    }
  };
}

function build(w, h, cfgFn, box) {
  let c, ch, ca;
  for (let attempt = 0; attempt < 2; attempt++) {
    c = document.createElement('canvas');
    c.width = w; c.height = h;
    c.style.width = w + 'px'; c.style.height = h + 'px';
    document.body.appendChild(c);
    ch = new Chart(c, cfgFn());
    ca = ch.chartArea;
    const dw = Math.round(box.w - (ca.right - ca.left));
    const dh = Math.round(box.h - (ca.bottom - ca.top));
    if ((dw === 0 && dh === 0) || attempt === 1) break;
    ch.destroy(); c.remove();
    w += dw; h += dh;
  }
  c.style.left = (box.x - ca.left) + 'px';
  c.style.top = (box.y - ca.top) + 'px';
  return ch;
}

function lineCfg(values, mid, ticks, k, isBottom, g) {
  return () => ({
    type: 'line',
    data: {datasets: [{
      data: samples(values, mid),
      borderColor: LINE_COL[k], borderWidth: 2, pointRadius: 0, tension: 0, fill: false,
      borderJoinStyle: 'round'
    }]},
    options: {
      responsive: false, maintainAspectRatio: false, animation: false, events: [],
      layout: {autoPadding: false, padding: {left: 0, right: 24, top: 12, bottom: 12}},
      plugins: {legend: {display: false}, tooltip: {enabled: false}},
      scales: {
        x: {type: 'linear', min: xTicks[0], max: xTicks[xTicks.length - 1], display: isBottom,
            afterBuildTicks: sc => { sc.ticks = xTicks.map(v => ({value: v})); },
            ticks: {color: TICKTXT, font: {size: 13}, padding: 5, maxRotation: 0, autoSkip: false},
            grid: {display: false, drawTicks: false}, border: {display: false}},
        y: {type: 'linear', min: ticks[0], max: ticks[ticks.length - 1],
            afterBuildTicks: sc => { sc.ticks = ticks.map(v => ({value: v})); },
            ticks: {color: TICKTXT, font: {size: 13}, padding: 8, autoSkip: false},
            grid: {display: false, drawTicks: false}, border: {display: false},
            title: {display: true, text: YLABELS[k], color: TITLETXT, font: {size: 12.5}, padding: {top: 46, bottom: 0}},
            afterFit: sc => { sc.width = g.x0; }}
      }
    },
    plugins: [makeFrame(ticks, xTicks)]
  });
}

function histCfg(bins, counts, ticks, k) {
  return () => ({
    type: 'bar',
    data: {datasets: [{
      data: bins.map((b, i) => ({x: counts[i], y: b})),
      backgroundColor: HIST_COL[k], borderWidth: 0, barPercentage: 1, categoryPercentage: 0.7
    }]},
    options: {
      indexAxis: 'y', responsive: false, maintainAspectRatio: false, animation: false, events: [],
      layout: {autoPadding: false, padding: {left: 2, right: 0, top: 4, bottom: 4}},
      plugins: {legend: {display: false}, tooltip: {enabled: false}},
      scales: {
        x: {type: 'linear', min: 0, max: HIST_MAX, display: false},
        y: {type: 'linear', min: ticks[0], max: ticks[ticks.length - 1], display: false}
      }
    },
    plugins: [makeFrame(ticks, [])]
  });
}

groups.forEach(g => {
  const L = document.createElement('div');
  L.className = 'letter'; L.textContent = g.letter;
  L.style.left = g.lx + 'px'; L.style.top = g.ly + 'px';
  document.body.appendChild(L);
  const T = document.createElement('div');
  T.className = 'title'; T.textContent = g.title;
  T.style.left = g.tx + 'px'; T.style.top = g.ty + 'px';
  document.body.appendChild(T);

  g.s.forEach((s, k) => {
    const [values, mid, ticks, bins, counts] = s;
    const isBottom = k === 2;
    const pw = g.x1 - g.x0;
    build(g.x0 + pw + 24, g.h + 24 + (isBottom ? 24 : 0), lineCfg(values, mid, ticks, k, isBottom, g),
          {x: g.x0, y: g.tops[k], w: pw, h: g.h});
    build(HIST_MAX + 2, g.h + 8, histCfg(bins, counts, ticks, k),
          {x: g.hx, y: g.tops[k], w: HIST_MAX, h: g.h});
  });
});
</script>
</body></html>
